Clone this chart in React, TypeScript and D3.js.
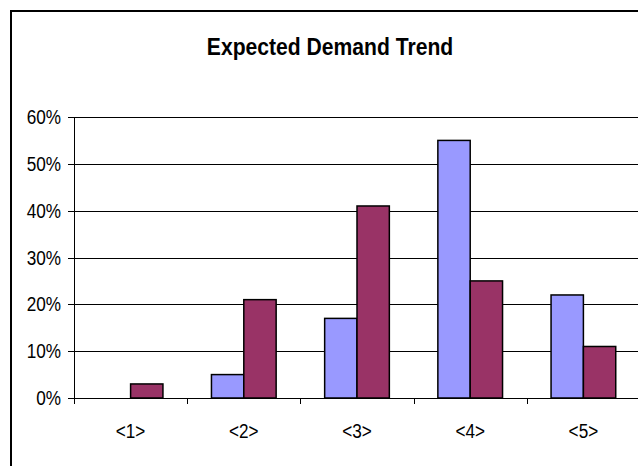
import React from "react";
import * as d3 from "d3";

const categories = ["<1>", "<2>", "<3>", "<4>", "<5>"];
const seriesNames = ["Series1", "Series2"];
const series1 = [0, 0.05, 0.17, 0.55, 0.22];
const series2 = [0.03, 0.21, 0.41, 0.25, 0.11];
const yTicks = [0, 0.1, 0.2, 0.3, 0.4, 0.5, 0.6];
const colors = ["#9999FF", "#993366"];

const W = 638;
const H = 466;
const plotLeft = 74;
const plotRight = 640;
const plotTop = 117;
const plotBottom = 398;
// the source image text is a bit narrow and tall
const squeeze = 0.88;

export default function App() {
  const x = d3.scaleBand().domain(categories).range([plotLeft, plotRight]).padding(0);
  const bw = x.bandwidth();
  const gap = (bw * 1.5) / 3.5;
  const x1 = d3.scaleBand().domain(seriesNames).range([gap / 2, bw - gap / 2]).padding(0);
  const y = d3.scaleLinear().domain([0, 0.6]).range([plotBottom, plotTop]);
  const fmt = d3.format(".0%");
  const values = [series1, series2];

  return (
    <svg
      width={W}
      height={H}
      style={{ position: "absolute", left: 0, top: 0, background: "#fff" }}
      fontFamily="Liberation Sans, Arial, sans-serif"
    >
      <rect x={0} y={0} width={W} height={H} fill="#fff" />
      {/* chart border, runs off the right and bottom edges */}
      <rect x={11} y={11} width={W + 20} height={H + 20} fill="none" stroke="#000" strokeWidth={2} />

      <text
        transform={`translate(330,55) scale(${squeeze},1)`}
        textAnchor="middle"
        fontSize={24}
        fontWeight="bold"
        fill="#000"
      >
        Expected Demand Trend
      </text>

      {/* gridlines + y axis labels */}
      {yTicks.map((t) => (
        <g key={t}>
          {t > 0 && (
            <line x1={plotLeft} x2={plotRight} y1={Math.round(y(t)) + 0.5} y2={Math.round(y(t)) + 0.5} stroke="#000" strokeWidth={1} />
          )}
          <line x1={plotLeft - 6} x2={plotLeft} y1={Math.round(y(t)) + 0.5} y2={Math.round(y(t)) + 0.5} stroke="#000" strokeWidth={1} />
          <text
            transform={`translate(61,${y(t) + 7}) scale(${squeeze},1)`}
            textAnchor="end"
            fontSize={19.5}
            fill="#000"
          >
            {fmt(t)}
          </text>
        </g>
      ))}

      {/* bars */}
      {categories.map((c, i) => (
        <g key={c} transform={`translate(${x(c)},0)`}>
          {seriesNames.map((s, j) =>
            values[j][i] > 0 ? (
              <rect
                key={s}
                x={x1(s)}
                y={y(values[j][i])}
                width={x1.bandwidth()}
                height={y(0) - y(values[j][i])}
                fill={colors[j]}
                stroke="#000"
                strokeWidth={1.5}
              />
            ) : null
          )}
        </g>
      ))}

      {/* axes */}
      <line x1={plotLeft + 0.5} x2={plotLeft + 0.5} y1={plotTop} y2={plotBottom + 6} stroke="#000" strokeWidth={1} />
      <line x1={plotLeft} x2={plotRight} y1={plotBottom + 0.5} y2={plotBottom + 0.5} stroke="#000" strokeWidth={1} />
      {categories.map((c) => (
        <line
          key={"t" + c}
          x1={Math.round(x(c)!) + 0.5}
          x2={Math.round(x(c)!) + 0.5}
          y1={plotBottom}
          y2={plotBottom + 6}
          stroke="#000"
          strokeWidth={1}
        />
      ))}
      {categories.map((c) => (
        <text
          key={"l" + c}
          transform={`translate(${x(c)! + bw / 2},438) scale(${squeeze},1)`}
          textAnchor="middle"
          fontSize={19.5}
          fill="#000"
        >
          {c}
        </text>
      ))}
    </svg>
  );
}
